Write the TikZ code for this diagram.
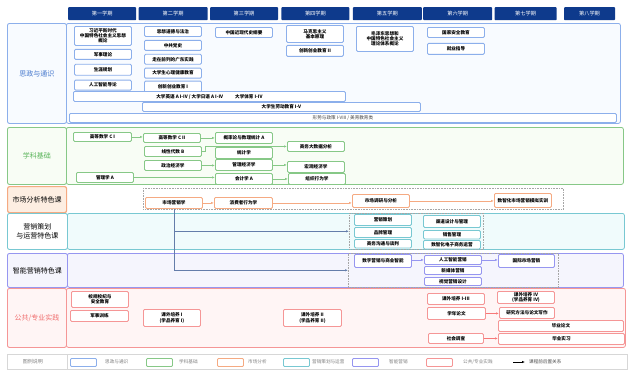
\documentclass[tikz,border=0pt]{standalone}
\usepackage{fontspec}
\setmainfont{Noto Sans CJK SC}
\usetikzlibrary{arrows.meta,positioning,calc}
\definecolor{hdblue}{RGB}{14,58,140}
\definecolor{szline}{RGB}{140,175,235}
\definecolor{szfill}{RGB}{248,251,255}
\definecolor{sztext}{RGB}{70,120,205}
\definecolor{xkline}{RGB}{135,200,135}
\definecolor{xkfill}{RGB}{248,253,245}
\definecolor{xktext}{RGB}{90,180,90}
\definecolor{scline}{RGB}{245,170,130}
\definecolor{scfill}{RGB}{253,238,226}
\definecolor{yxline}{RGB}{120,200,210}
\definecolor{yxfill}{RGB}{240,251,252}
\definecolor{znline}{RGB}{150,150,240}
\definecolor{znfill}{RGB}{245,245,253}
\definecolor{sjline}{RGB}{245,150,150}
\definecolor{sjfill}{RGB}{255,245,245}
\definecolor{sjtext}{RGB}{240,110,110}
\definecolor{linkblue}{RGB}{100,125,170}
\definecolor{legline}{RGB}{215,215,215}
\newcommand{\crsfont}{\fontsize{4.6}{5.2}\selectfont\bfseries}
\newcommand{\labfont}{\fontsize{7}{9}\selectfont}
\newcommand{\legfont}{\fontsize{4.6}{5}\selectfont}
\tikzset{
  crs/.style={draw=#1, fill=white, line width=0.9pt, rounded corners=1.2pt, minimum width=57pt, minimum height=10pt, inner sep=0pt, align=center, font=\crsfont, anchor=north west},
  hd/.style={fill=hdblue, text=white, rounded corners=0.8pt, minimum height=13pt, inner sep=0pt, font=\fontsize{5.2}{6}\selectfont, anchor=north west},
  lab/.style={draw=#1, line width=0.9pt, rounded corners=2pt, minimum width=59pt, inner sep=0pt, align=center, font=\labfont, anchor=north west},
  area/.style={draw=#1, line width=0.8pt, rounded corners=2pt, inner sep=0pt, anchor=north west},
  grp/.style={draw=gray!70, densely dotted, line width=0.6pt, inner sep=0pt, anchor=north west},
  arr/.style={draw=#1, line width=0.6pt, -{Latex[length=3pt,width=2.4pt]}},
  swatch/.style={draw=#1, line width=0.9pt, rounded corners=1pt, minimum width=26pt, minimum height=8pt, inner sep=0pt, anchor=north west},
  legtxt/.style={text=gray, font=\legfont, anchor=west, inner sep=0pt},
}
\begin{document}
\begin{tikzpicture}[x=1pt,y=-1pt]
\useasboundingbox (0,0) rectangle (638,391);
%%%%%%%%%%%%%%%%%%%%%%%%%%%%
%%%%%%%%% Semesters %%%%%%%%
%%%%%%%%%%%%%%%%%%%%%%%%%%%%
\node[hd, minimum width=68pt] (hd1) at (68,7) {第一学期};
\node[hd, minimum width=69pt, right=2pt of hd1] (hd2) {第二学期};
\node[hd, minimum width=68pt, right=2pt of hd2] (hd3) {第三学期};
\node[hd, minimum width=68pt, right=3pt of hd3] (hd4) {第四学期};
\node[hd, minimum width=69pt, right=3pt of hd4] (hd5) {第五学期};
\node[hd, minimum width=69pt, right=1pt of hd5] (hd6) {第六学期};
\node[hd, minimum width=62pt, right=2pt of hd6] (hd7) {第七学期};
\node[hd, minimum width=51pt, right=7pt of hd7] (hd8) {第八学期};
%%%%%%%%%%%%%%%%%%%%%%%%%%%%
%%%%%%%%% 思政与通识 %%%%%%%
%%%%%%%%%%%%%%%%%%%%%%%%%%%%
\node[area=szline, fill=szfill, minimum width=554pt, minimum height=100pt] (szarea) at (66,23) {};
\node[lab=szline, fill=szfill, minimum height=100pt, text=sztext] (szlab) at (7,23) {思政与通识};
\node[crs=szline, minimum height=19pt] (sz11) at (74,26) {习近平新时代\\中国特色社会主义思想\\概论};
\node[crs=szline, below=3pt of sz11] (sz12) {军事理论};
\node[crs=szline, minimum height=11pt, below=4pt of sz12] (sz13) {生涯规划};
\node[crs=szline, below=4pt of sz13] (sz14) {人工智能导论};
\node[crs=szline] (sz21) at (144,26) {思想道德与法治};
\node[crs=szline, below=3pt of sz21] (sz22) {中共党史};
\node[crs=szline, below=3pt of sz22] (sz23) {走在前列的广东实践};
\node[crs=szline, below=3pt of sz23] (sz24) {大学生心理健康教育};
\node[crs=szline, minimum height=11pt, below=2pt of sz24] (sz25) {创新创业教育 I};
\node[crs=szline] (sz31) at (215,27) {中国近现代史纲要};
\node[crs=szline, minimum height=17pt] (sz41) at (286,25) {马克思主义\\基本原理};
\node[crs=szline, minimum height=11pt, below=2pt of sz41] (sz42) {创新创业教育 II};
\node[crs=szline, minimum height=25pt] (sz51) at (356,26) {毛泽东思想和\\中国特色社会主义\\理论体系概论};
\node[crs=szline] (sz61) at (427,27) {国家安全教育};
\node[crs=szline, minimum height=11pt, below=5pt of sz61] (sz62) {就业指导};
\node[crs=szline, minimum width=272pt] (szw1) at (73,91) {大学英语 A I-IV / 大学日语 A I-IV\hspace{12pt}大学体育 I-IV};
\node[crs=szline, minimum width=278pt, minimum height=9pt] (szw2) at (142,102) {大学生劳动教育 I-V};
\node[crs=szline, minimum width=547pt, minimum height=9pt, font=\legfont, text=black!75] (szw3) at (69,113) {形势与政策 I-VIII / 美育教育类};
%%%%%%%%%%%%%%%%%%%%%%%%%%%%
%%%%%%%%% 学科基础 %%%%%%%%%
%%%%%%%%%%%%%%%%%%%%%%%%%%%%
\node[area=xkline, fill=xkfill, minimum width=557pt, minimum height=57pt] (xkarea) at (66,127) {};
\node[lab=xkline, fill=xkfill, minimum height=57pt, text=xktext] (xklab) at (7,127) {学科基础};
\node[crs=xkline, minimum width=58pt, minimum height=9pt] (xk11) at (73,132) {高等数学 C I};
\node[crs=xkline, minimum height=9pt] (xk21) at (143,133) {高等数学 C II};
\node[crs=xkline, minimum height=11pt] (xk31) at (215,132) {概率论与数理统计 A};
\node[crs=xkline] (xk22) at (144,146) {线性代数 B};
\node[crs=xkline, minimum height=11pt] (xk32) at (215,147) {统计学};
\node[crs=xkline] (xk41) at (287,141) {商务大数据分析};
\node[crs=xkline] (xk23) at (144,160) {政治经济学};
\node[crs=xkline, minimum height=11pt] (xk33) at (215,159) {管理经济学};
\node[crs=xkline, minimum height=11pt] (xk42) at (287,161) {宏观经济学};
\node[crs=xkline] (xk12) at (76,172) {管理学 A};
\node[crs=xkline, minimum height=11pt] (xk34) at (215,173) {会计学 A};
\node[crs=xkline, minimum height=11pt] (xk43) at (288,173) {组织行为学};
\draw[arr=xkline] (xk11) -- (xk11 -| xk21.west);
\draw[arr=xkline] (xk21) -- (xk21 -| xk31.west);
\draw[arr=xkline] (xk22.east) -- ++(3pt,0) |- (xk41.west);
\draw[arr=xkline] (xk23) -- (xk23 -| xk33.west);
\draw[arr=xkline] (xk33) -- (xk33 -| xk42.west);
\draw[arr=xkline] (xk12) -- (xk12 -| xk34.west);
\draw[arr=xkline] (xk34.east) -- (xk34.east -| xk43.west);
%%%%%%%%%%%%%%%%%%%%%%%%%%%%
%%%%%%%%% 市场分析 %%%%%%%%%
%%%%%%%%%%%%%%%%%%%%%%%%%%%%
\node[lab=scline, fill=scfill, minimum height=26pt, line width=1.2pt] (sclab) at (7,186) {市场分析特色课};
\node[grp, minimum width=420pt, minimum height=21pt] (scgrp) at (143,188) {};
\node[crs=scline, minimum height=11pt] (sc1) at (145,197) {市场营销学};
\node[crs=scline, minimum width=58pt, minimum height=11pt] (sc2) at (214,197) {消费者行为学};
\node[crs=scline, minimum height=13pt] (sc3) at (352,194) {市场调研与分析};
\node[crs=scline, minimum height=14pt] (sc4) at (494,193) {数智化市场营销模拟实训};
\draw[arr=scline] (sc1) -- (sc2);
\draw[arr=scline] (sc2) -- (sc2 -| sc3.west);
\draw[arr=scline] (sc3) -- (sc3 -| sc4.west);
%%%%%%%%%%%%%%%%%%%%%%%%%%%%
%%%%%%%%% 营销策划 %%%%%%%%%
%%%%%%%%%%%%%%%%%%%%%%%%%%%%
\node[area=yxline, fill=yxfill, minimum width=557pt, minimum height=36pt] (yxarea) at (67,213) {};
\node[lab=yxline, fill=white, minimum width=60pt, minimum height=36pt] (yxlab) at (7,213) {营销策划\\与运营特色课};
\node[grp, minimum width=134pt, minimum height=36pt] (yxgrp) at (349,213) {};
\node[crs=yxline, minimum height=11pt] (yx11) at (354,214) {营销策划};
\node[crs=yxline] (yx12) at (354,227) {品牌管理};
\node[crs=yxline, minimum height=8.5pt] (yx13) at (354,239) {商务沟通与谈判};
\node[crs=yxline, minimum height=12pt] (yx21) at (423,215) {渠道设计与管理};
\node[crs=yxline, minimum height=8.5pt] (yx22) at (423,230) {销售管理};
\node[crs=yxline, minimum height=8.5pt] (yx23) at (423,240) {数智化电子商务运营};
%%%%%%%%%%%%%%%%%%%%%%%%%%%%
%%%%%%%%% 智能营销 %%%%%%%%%
%%%%%%%%%%%%%%%%%%%%%%%%%%%%
\node[area=znline, fill=znfill, minimum width=556pt, minimum height=34pt] (znarea) at (67,253) {};
\node[lab=znline, fill=znfill, minimum width=60pt, minimum height=34pt] (znlab) at (7,253) {智能营销特色课};
\node[grp, minimum width=210pt, minimum height=34pt] (zngrp) at (348,253) {};
\node[crs=znline, minimum height=13pt] (zn1) at (354,254) {数字营销与商业智能};
\node[crs=znline, minimum height=9pt] (zn21) at (424,255) {人工智能营销};
\node[crs=znline, minimum height=8pt] (zn22) at (424,266) {新媒体营销};
\node[crs=znline, minimum height=8pt] (zn23) at (424,277) {视觉营销设计};
\node[crs=znline, minimum width=56pt, minimum height=13pt] (zn3) at (498,254) {国际市场营销};
\draw[arr=znline] (zn21 -| zn1.east) -- (zn21);
\draw[arr=znline] (zn21) -- (zn21 -| zn3.west);
\draw[arr=linkblue] (sc1.south) |- (yxgrp.west);
\draw[arr=linkblue] (sc1.south) |- (zngrp.west);
%%%%%%%%%%%%%%%%%%%%%%%%%%%%
%%%%%%%%% 公共/专业实践 %%%%
%%%%%%%%%%%%%%%%%%%%%%%%%%%%
\node[area=sjline, fill=sjfill, minimum width=559pt, minimum height=59pt] (sjarea) at (66,288) {};
\node[lab=sjline, fill=sjfill, minimum height=59pt, text=sjtext] (sjlab) at (7,288) {公共/专业实践};
\node[crs=sjline, minimum height=16pt] (sj11) at (71,291) {校规校纪与\\安全教育};
\node[crs=sjline, minimum width=58pt, minimum height=11pt] (sj12) at (70,310) {军事训练};
\node[crs=sjline, minimum height=17pt] (sj2) at (143,309) {课外培养 I\\(学品养育 I)};
\node[crs=sjline, minimum width=58pt, minimum height=17pt] (sj4) at (283,309) {课外培养 II\\(学品养育 II)};
\node[crs=sjline, minimum height=11pt] (sj61) at (427,293) {课外培养 I-III};
\node[crs=sjline, minimum width=58pt, minimum height=12pt] (sj62) at (427,307) {学年论文};
\node[crs=sjline, minimum width=55pt] (sj63) at (428,333) {社会调查};
\node[crs=sjline, minimum height=12pt] (sj71) at (497,291) {课外培养 IV\\(学品养育 IV)};
\node[crs=sjline, minimum width=55pt, minimum height=11pt] (sj72) at (499,307) {研究方法与论文写作};
\node[crs=sjline, minimum width=125pt, minimum height=11pt] (sj73) at (498,320) {毕业论文};
\node[crs=sjline, minimum width=126pt, minimum height=11pt] (sj74) at (498,333) {毕业实习};
\draw[arr=sjline!80!red] (sj62) -- (sj62 -| sj72.west);
\draw[arr=sjline!80!red] (sj63) -- (sj63 -| sj74.west);
%%%%%%%%%%%%%%%%%%%%%%%%%%%%
%%%%%%%%% Legend %%%%%%%%%%%
%%%%%%%%%%%%%%%%%%%%%%%%%%%%
\node[draw=legline, line width=0.8pt, fill=white, minimum width=620pt, minimum height=15pt, inner sep=0pt, anchor=north west] (leg) at (7,354) {};
\draw[legline, line width=0.5pt] ($(leg.north west)+(60pt,0)$) -- ($(leg.south west)+(60pt,0)$);
\node[legtxt, anchor=center, font=\fontsize{5}{6}\selectfont] (legtitle) at (33,362) {图例说明};
\node[swatch=szline] (lg1) at (70,358) {};
\node[legtxt] (lt1) at (105,362) {思政与通识};
\node[swatch=xkline] (lg2) at (146,358) {};
\node[legtxt] (lt2) at (179,362) {学科基础};
\node[swatch=scline] (lg3) at (217,358) {};
\node[legtxt] (lt3) at (248,362) {市场分析};
\node[swatch=yxline] (lg4) at (283,358) {};
\node[legtxt] (lt4) at (312,362) {营销策划与运营};
\node[swatch=znline] (lg5) at (352,358) {};
\node[legtxt] (lt5) at (389,362) {智能营销};
\node[swatch=sjline] (lg6) at (426,358) {};
\node[legtxt] (lt6) at (463,362) {公共/专业实践};
\node[legtxt, text=black!70] (lt7) at (529,362) {课程前后置关系};
\coordinate (lgA) at (513,362);
\draw[-{Latex[length=3pt,width=2.4pt]}, line width=0.6pt] (lgA) -- ($(lt7.west)+(-4pt,0)$);
\end{tikzpicture}
\end{document}
